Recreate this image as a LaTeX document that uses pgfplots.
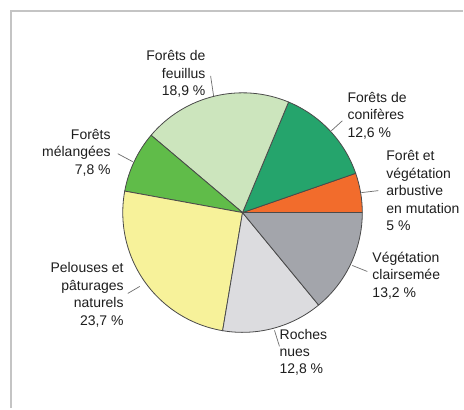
\documentclass[border=0pt]{standalone}
\usepackage{pgfplots}
\pgfplotsset{compat=1.18}
\usepackage{pgfplotstable}
\usepackage{fontspec}
\setmainfont{Liberation Sans}
\definecolor{cOrange}{HTML}{F26C2C}
\definecolor{cConif}{HTML}{25A46C}
\definecolor{cFeuil}{HTML}{CCE5BD}
\definecolor{cMel}{HTML}{60BC49}
\definecolor{cPel}{HTML}{F7F29A}
\definecolor{cRoch}{HTML}{DCDCDF}
\definecolor{cVeg}{HTML}{A3A5AB}
\definecolor{edgec}{HTML}{4A4A4A}
\definecolor{txt}{HTML}{1E1E1E}
\definecolor{framec}{HTML}{C4C4C4}
\pgfplotstableread{
value color
5.0  cOrange
12.6 cConif
18.9 cFeuil
7.8  cMel
23.7 cPel
12.8 cRoch
13.2 cVeg
}\piedata
\begin{document}
\begin{tikzpicture}
\begin{axis}[x=1bp,y=1bp,xmin=0,xmax=464,ymin=0,ymax=409,
  hide axis,scale only axis,clip=false]
\fill[white] (axis cs:0,0) rectangle (axis cs:464,409);
\draw[framec,line width=1.8bp] (axis cs:11,0) -- (axis cs:11,398) -- (axis cs:464,398);
\def\total{94}
\def\cum{0}
\def\cx{243}\def\cy{196}\def\R{120}
\pgfplotstablegetrowsof{\piedata}
\pgfmathtruncatemacro\N{\pgfplotsretval-1}
\pgfplotsforeachungrouped \i in {0,...,\N}{%
  \pgfplotstablegetelem{\i}{value}\of\piedata \let\v\pgfplotsretval
  \pgfplotstablegetelem{\i}{color}\of\piedata \let\c\pgfplotsretval
  \pgfmathsetmacro\a{\cum/\total*360}%
  \pgfmathsetmacro\cumnew{\cum+\v}%
  \pgfmathsetmacro\b{\cumnew/\total*360}%
  \pgfmathsetmacro\xs{\cx+\R*cos(\a)}%
  \pgfmathsetmacro\ys{\cy+\R*sin(\a)}%
  \edef\temp{\noexpand\filldraw[fill=\c,draw=edgec,line width=0.8bp,line join=round]
    (axis cs:\cx,\cy) -- (axis cs:\xs,\ys) arc[start angle=\a,end angle=\b,radius=\R bp] -- cycle;}%
  \temp
  \global\let\cum\cumnew
}
% leaders
\begin{scope}[draw=edgec!80,line width=0.7bp]
\draw (axis cs:211,333) -- (axis cs:214,313);
\draw (axis cs:332,278) -- (axis cs:343,288);
\draw (axis cs:362,216) -- (axis cs:379,218);
\draw (axis cs:353,143) -- (axis cs:368,137);
\draw (axis cs:275,78) -- (axis cs:280,62);
\draw (axis cs:128,115) -- (axis cs:140,122);
\draw (axis cs:118,255) -- (axis cs:133,247);
\end{scope}
\begin{scope}[every node/.style={inner sep=0pt,text=txt,font=\fontsize{14bp}{17.5bp}\selectfont}]
\node[align=right,anchor=east] at (axis cs:206,335) {Forêts de\\feuillus\\18,9 \%};
\node[align=left,anchor=west] at (axis cs:348,293) {Forêts de\\conifères\\12,6 \%};
\node[align=left,anchor=west] at (axis cs:387,218) {Forêt et\\végétation\\arbustive\\en mutation\\5 \%};
\node[align=left,anchor=west] at (axis cs:373,133) {Végétation\\clairsemée\\13,2 \%};
\node[align=left,anchor=west] at (axis cs:280,56) {Roches\\nues\\12,8 \%};
\node[align=right,anchor=east] at (axis cs:124,113.5) {Pelouses et\\pâturages\\naturels\\23,7 \%};
\node[align=right,anchor=east] at (axis cs:111,256) {Forêts\\mélangées\\7,8 \%};
\end{scope}
\end{axis}
\end{tikzpicture}
\end{document}
